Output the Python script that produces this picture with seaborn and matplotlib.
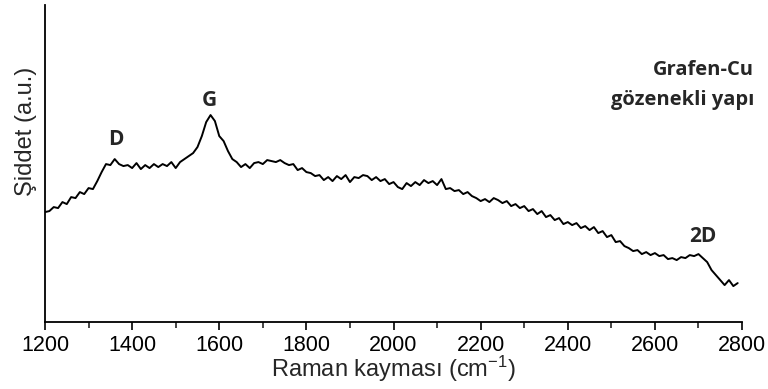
import numpy as np
import pandas as pd
import seaborn as sns
import matplotlib.pyplot as plt

# Raman spectrum of porous graphene-Cu (arbitrary units)
raman_shift = np.arange(1200, 2791, 10)
intensity = [
    110, 111, 115, 114, 120, 118, 125, 124, 130, 128,
    134, 133, 141, 150, 158, 157, 163, 158, 156, 157,
    154, 159, 153, 157, 154, 158, 155, 158, 156, 160,
    154, 160, 163, 166, 169, 175, 186, 200, 207, 201,
    186, 181, 171, 163, 160, 155, 158, 154, 159, 160,
    158, 162, 161, 160, 162, 159, 157, 158, 152, 154,
    150, 149, 146, 147, 142, 145, 141, 146, 143, 147,
    140, 145, 144, 147, 146, 142, 145, 141, 143, 138,
    140, 135, 133, 139, 136, 140, 137, 142, 139, 141,
    137, 143, 133, 134, 131, 132, 128, 130, 126, 124,
    121, 123, 120, 124, 122, 119, 121, 116, 118, 114,
    116, 111, 113, 108, 111, 105, 107, 102, 104, 98,
    100, 97, 99, 94, 96, 92, 95, 89, 91, 85,
    87, 80, 81, 76, 74, 71, 72, 68, 70, 67,
    69, 66, 67, 63, 64, 62, 65, 64, 67, 66,
    68, 64, 60, 52, 47, 42, 37, 42, 36, 39,
]

# peak labels: name, position, height
peak_names = ['D', 'G', '2D']
peak_x = [1363, 1578, 2709]
peak_y = [183, 222, 86]

sample_lines = ['Grafen-Cu', 'gözenekli yapı']

df = pd.DataFrame({'shift': raman_shift, 'intensity': intensity})

sns.set_style('ticks')
plt.rcParams['font.family'] = ['Liberation Sans', 'DejaVu Sans']
plt.rcParams['mathtext.default'] = 'regular'

fig = plt.figure(figsize=(7.68, 3.89), dpi=100)
ax = fig.add_axes([0.0586, 0.172, 0.9076, 0.815])

sns.lineplot(data=df, x='shift', y='intensity', color='black', linewidth=1.4, ax=ax)

ax.set_xlim(1200, 2800)
ax.set_ylim(0, 317)
ax.set_xticks(range(1200, 2801, 200))
ax.set_xticks(range(1300, 2800, 200), minor=True)
ax.set_yticks([])
ax.tick_params(axis='x', which='major', length=6, width=1.2, labelsize=15.5, pad=3, colors='black')
ax.tick_params(axis='x', which='minor', length=4, width=1.2)
for s in ['left', 'bottom']:
    ax.spines[s].set_linewidth(1.3)
    ax.spines[s].set_color('black')
sns.despine(ax=ax)

ax.set_xlabel('Raman kayması (cm$^{-1}$)', fontsize=17, labelpad=-1)
ax.set_ylabel('Şiddet (a.u.)', fontsize=17)
ax.yaxis.set_label_coords(-0.012, 0.60)

bold_font = ['Open Sans', 'DejaVu Sans']
for name, px, py in zip(peak_names, peak_x, peak_y):
    ax.text(px, py, name, ha='center', va='center', fontsize=15,
            fontweight='bold', family=bold_font)

# sample name, two lines right-aligned past the axis end
ax.text(2828, 247, sample_lines[0], ha='right', va='baseline', fontsize=14.5,
        fontweight='bold', family=bold_font)
ax.text(2828, 217, sample_lines[1], ha='right', va='baseline', fontsize=14.5,
        fontweight='bold', family=bold_font)

plt.savefig('out.png', dpi=100)
plt.close()
